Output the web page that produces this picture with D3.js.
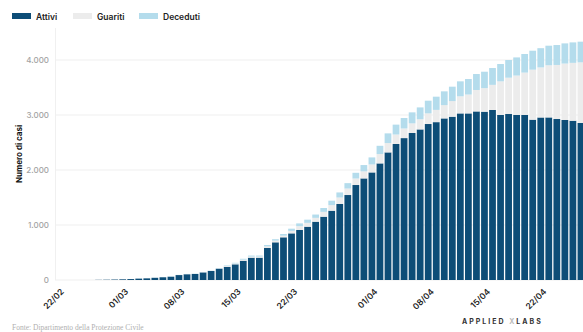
<!DOCTYPE html>
<html>
<head>
<meta charset="utf-8">
<script src="https://cdn.jsdelivr.net/npm/d3@7"></script>
<style>
    body { margin: 0; background: #fff; }
    svg { display: block; }
</style>
</head>
<body>
<svg id="chart" width="583" height="332"></svg>
<script>
let days = ["22/02","23/02","24/02","25/02","26/02","27/02","28/02","29/02",
    "01/03","02/03","03/03","04/03","05/03","06/03","07/03","08/03","09/03","10/03",
    "11/03","12/03","13/03","14/03","15/03","16/03","17/03","18/03","19/03","20/03",
    "21/03","22/03","23/03","24/03","25/03","26/03","27/03","28/03","29/03","30/03","31/03",
    "01/04","02/04","03/04","04/04","05/04","06/04","07/04","08/04","09/04","10/04",
    "11/04","12/04","13/04","14/04","15/04","16/04","17/04","18/04","19/04","20/04",
    "21/04","22/04","23/04","24/04","25/04","26/04","27/04"];

let attivi = [0,0,0,0,0,3,5,8,12,17,
    25,30,40,50,60,90,105,110,138,164,
    206,240,285,350,406,406,582,685,776,848,
    909,969,1060,1151,1260,1382,1545,1727,1847,1956,
    2120,2320,2473,2580,2673,2738,2836,2870,2938,2969,
    3029,3029,3065,3060,3091,3000,3018,3000,3000,2915,
    2955,2956,2927,2909,2896,2855];

let guariti = [0,0,0,0,0,0,0,0,0,0,
    0,0,0,0,0,2,2,2,4,4,
    4,15,16,20,20,20,30,30,30,45,
    70,70,70,88,102,118,118,118,128,145,
    170,170,172,175,175,185,194,223,242,284,
    311,343,390,429,457,612,660,717,771,909,
    910,948,983,1026,1052,1102];

let deceduti = [0,0,0,0,0,0,0,0,0,0,
    0,0,1,1,2,2,3,3,3,4,
    5,10,12,16,18,18,24,27,30,40,
    50,58,60,70,80,92,98,104,115,128,
    150,176,180,190,200,215,230,240,250,262,
    272,282,290,298,306,315,322,330,338,345,
    350,356,362,367,372,376];

let yTicks = [0, 1000, 2000, 3000, 4000];
let xTickLabels = ["22/02","01/03","08/03","15/03","22/03","01/04","08/04","15/04","22/04"];

let seriesKeys = ["attivi","guariti","deceduti"];
let seriesNames = ["Attivi","Guariti","Deceduti"];
let colors = {attivi: "#0d4d77", guariti: "#ececec", deceduti: "#b4dcec"};

const svg = d3.select("#chart");

let rows = days.map((d, i) => ({day: d, attivi: attivi[i], guariti: guariti[i], deceduti: deceduti[i]}));

let x = d3.scaleBand()
    .domain(days)
    .range([55, 55 + days.length * 8.02])
    .paddingInner(0.16)
    .paddingOuter(0);

let y = d3.scaleLinear()
    .domain([0, 4000])
    .range([280, 60]);

// grid lines
svg.append("g")
    .selectAll("line")
    .data(yTicks)
    .join("line")
    .attr("x1", 55)
    .attr("x2", 583)
    .attr("y1", d => y(d))
    .attr("y2", d => y(d))
    .attr("stroke", "#efefef")
    .attr("stroke-width", 1);

// thin vertical axis line
svg.append("line")
    .attr("x1", 55.5).attr("x2", 55.5)
    .attr("y1", 28).attr("y2", 280)
    .attr("stroke", "#f0f0f0");

// y tick labels
let yAxis = d3.axisLeft(y)
    .tickValues(yTicks)
    .tickSize(0)
    .tickPadding(6)
    .tickFormat(d => d3.format(",")(d).replace(",", "."));

let yG = svg.append("g")
    .attr("transform", "translate(55,0)")
    .call(yAxis);
yG.select(".domain").remove();
yG.selectAll("text")
    .attr("fill", "#a3a3a3")
    .style("font-family", "Inter, 'Open Sans', sans-serif")
    .style("font-size", "8px")
    .style("font-weight", "500");

// stacked bars
let stacked = d3.stack().keys(seriesKeys)(rows);

svg.append("g")
    .selectAll("g")
    .data(stacked)
    .join("g")
    .attr("fill", d => colors[d.key])
    .selectAll("rect")
    .data(d => d)
    .join("rect")
    .attr("x", d => x(d.data.day))
    .attr("width", x.bandwidth())
    .attr("y", d => y(d[1]))
    .attr("height", d => y(d[0]) - y(d[1]));

// x labels
let xAxis = d3.axisBottom(x)
    .tickValues(xTickLabels)
    .tickSize(0)
    .tickPadding(0);

let xG = svg.append("g")
    .attr("transform", "translate(2,288)")
    .call(xAxis);
xG.select(".domain").remove();
xG.selectAll("text")
    .attr("text-anchor", "end")
    .attr("dy", "0.7em")
    .attr("transform", "rotate(-45)")
    .attr("fill", "#222")
    .style("font-family", "Inter, 'Open Sans', sans-serif")
    .style("font-size", "8.5px")
    .style("font-weight", "600");

// y title
svg.append("text")
    .attr("transform", "translate(22,154) rotate(-90)")
    .attr("text-anchor", "middle")
    .attr("fill", "#111")
    .style("font-family", "Inter, 'Open Sans', sans-serif")
    .style("font-size", "8px")
    .style("font-weight", "700")
    .text("Numero di casi");

// legend
let legendX = [12, 73, 139];
seriesKeys.forEach((k, i) => {
    svg.append("rect")
        .attr("x", legendX[i])
        .attr("y", 13)
        .attr("width", 19)
        .attr("height", 6)
        .attr("fill", colors[k]);
    svg.append("text")
        .attr("x", legendX[i] + 24)
        .attr("y", 19.5)
        .attr("fill", "#222")
        .style("font-family", "Inter, 'Open Sans', sans-serif")
        .style("font-size", "8.5px")
        .style("font-weight", "600")
        .text(seriesNames[i]);
});

// source note
svg.append("text")
    .attr("x", 12)
    .attr("y", 330)
    .attr("fill", "#b0b0b0")
    .style("font-family", "'Liberation Serif', 'DejaVu Serif', serif")
    .style("font-size", "7.5px")
    .text("Fonte: Dipartimento della Protezione Civile");

// logo
let logo = svg.append("text")
    .attr("x", 462)
    .attr("y", 323.5)
    .style("font-family", "Inter, 'Open Sans', sans-serif")
    .style("font-size", "7px")
    .style("font-weight", "700")
    .style("letter-spacing", "2px");
logo.append("tspan").attr("fill", "#333").text("APPLIED ");
logo.append("tspan").attr("fill", "#bbb").text("X");
logo.append("tspan").attr("fill", "#333").text("LABS");
</script>
</body>
</html>
